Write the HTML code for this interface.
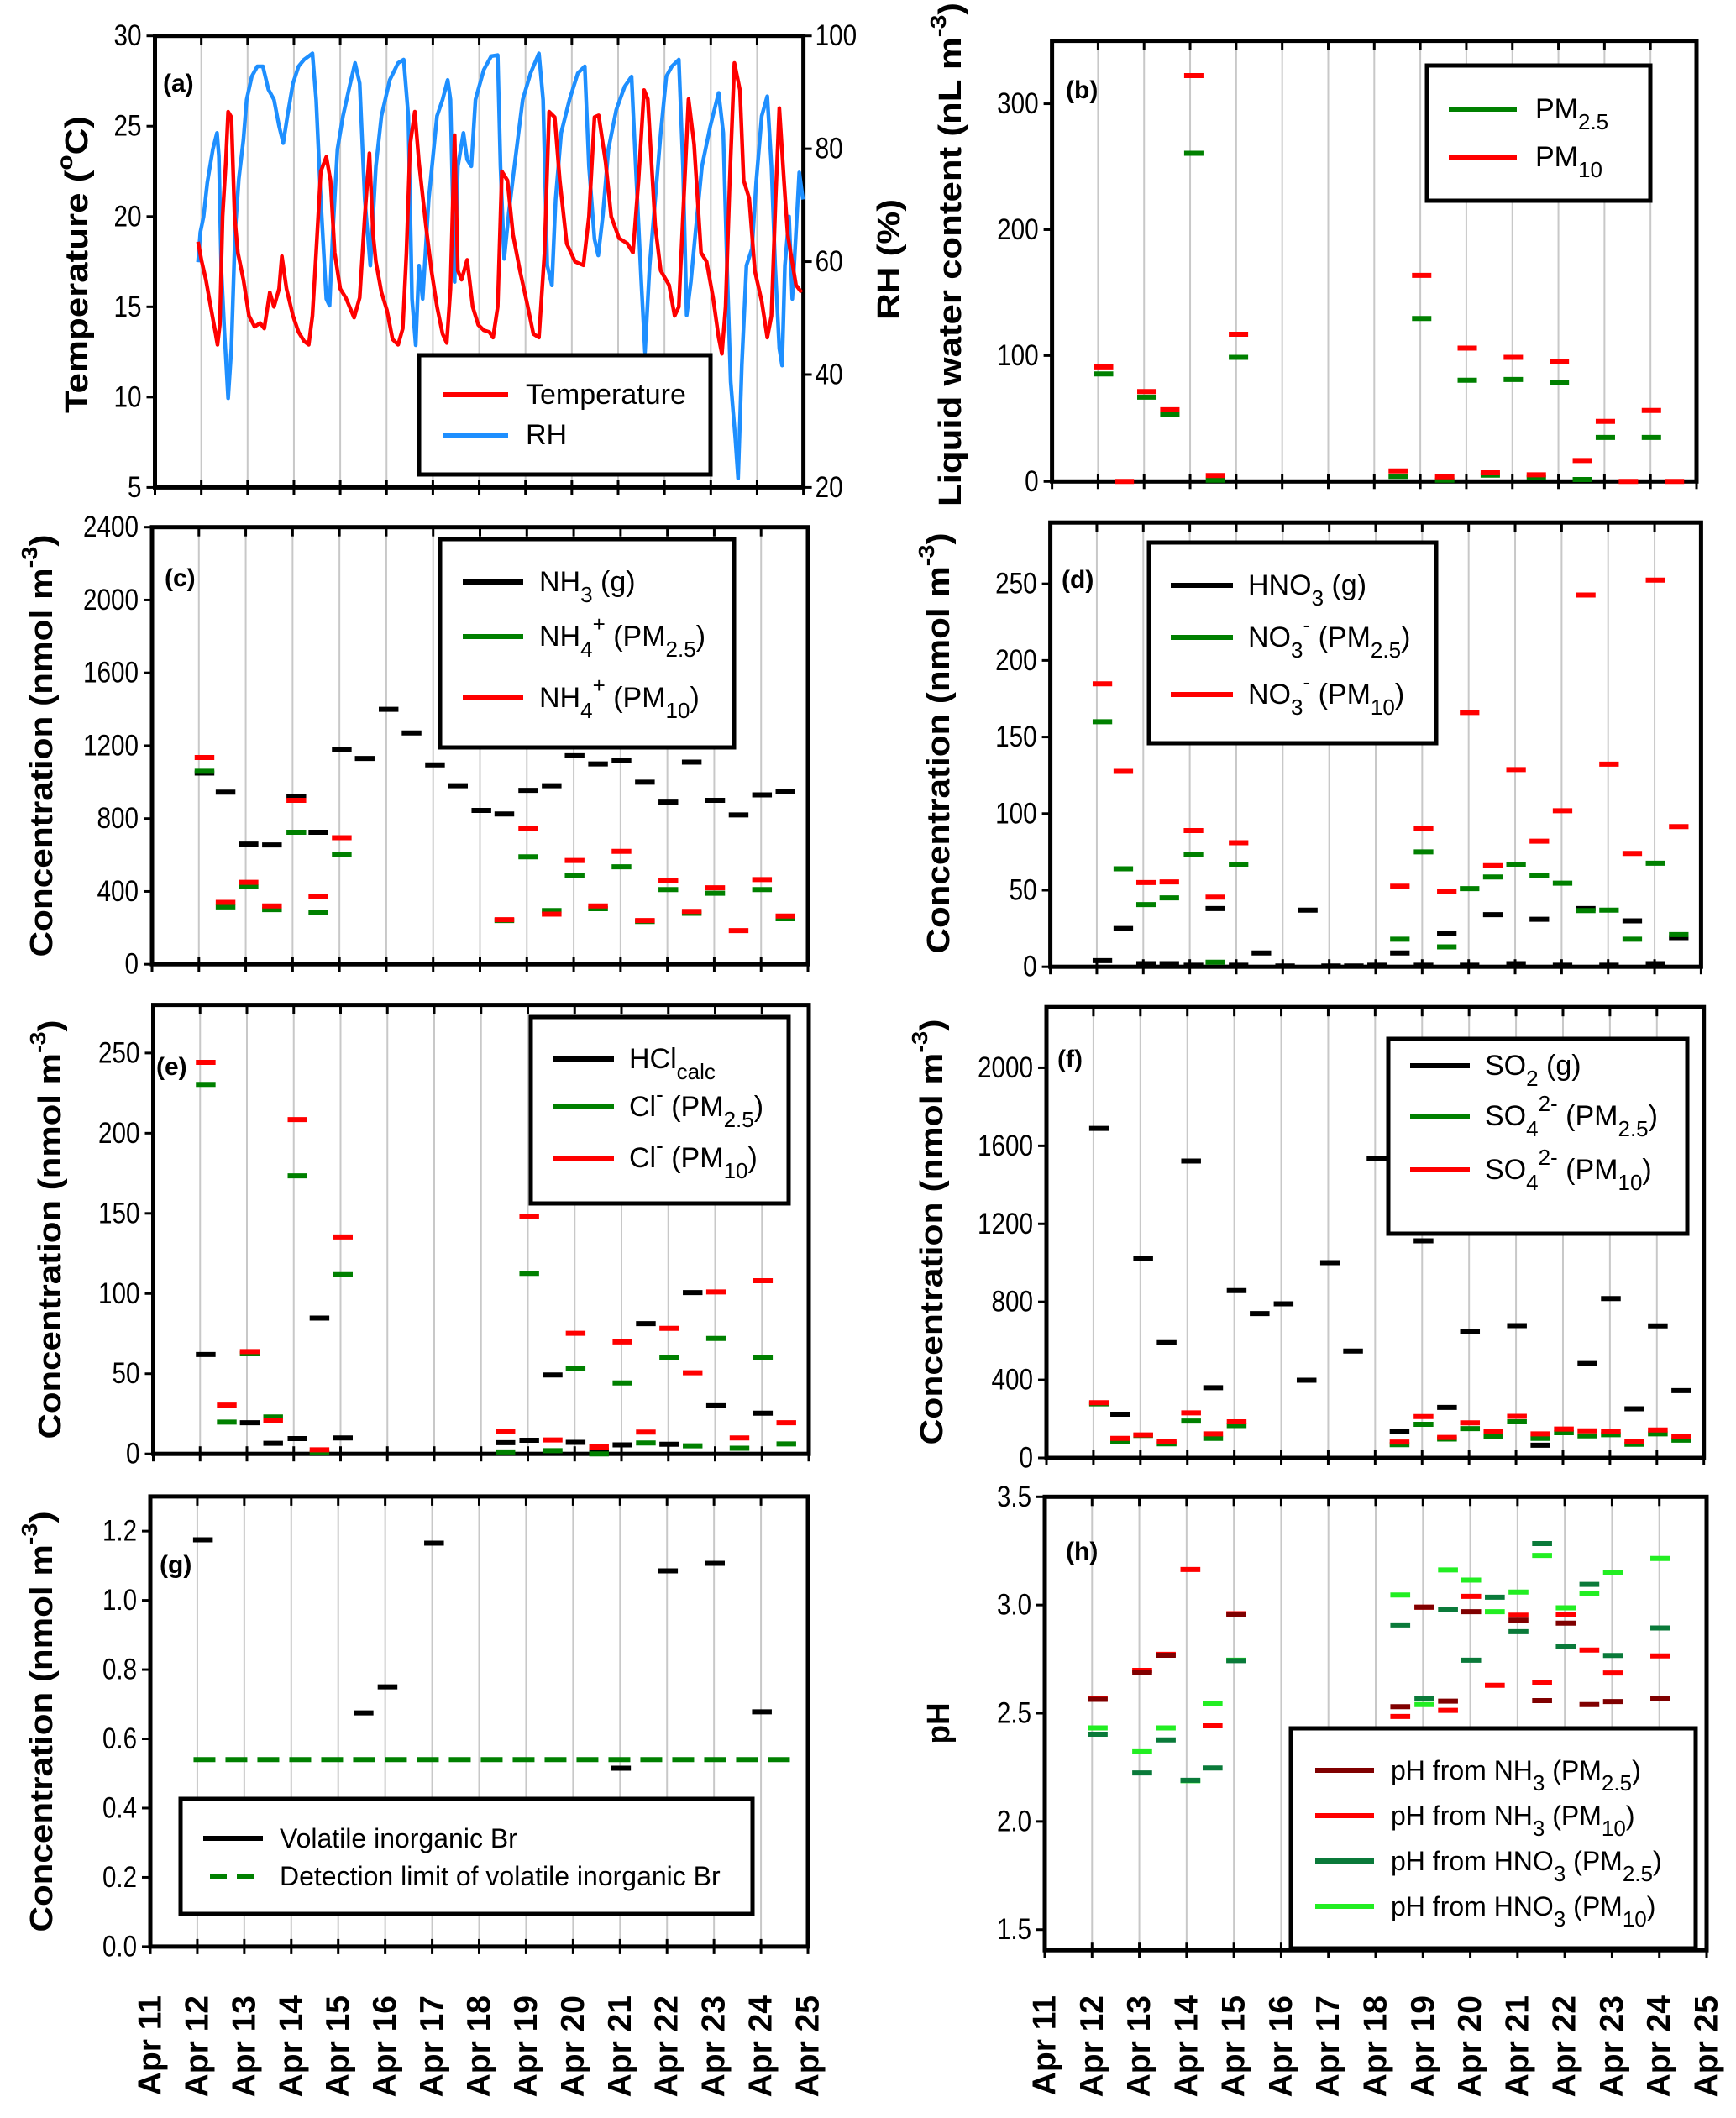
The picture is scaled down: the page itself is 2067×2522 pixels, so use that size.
<!DOCTYPE html>
<html><head><meta charset="utf-8"><title>Meteorology, gases, aerosol and pH, Apr 11–25</title>
<style>
html,body{margin:0;padding:0;background:#fff;}
svg{display:block;font-family:"Liberation Sans",Arial,sans-serif;}
</style></head>
<body>
<svg id="fig" xmlns="http://www.w3.org/2000/svg" width="2067" height="2522" viewBox="0 0 2067 2522">
<rect x="0" y="0" width="2067" height="2522" fill="#fff"/>
</svg>
<script>
const N = null;
// sample center times (day of April)
const T = [12.12,12.57,13.06,13.56,14.08,14.55,15.05,15.54,16.05,16.54,17.04,17.53,18.03,18.52,19.03,19.53,20.02,20.52,21.02,21.52,22.02,22.52,23.02,23.52,24.02,24.52];
// (a) temperature
const tempDays = [11.93,12.01,12.10,12.19,12.31,12.35,12.40,12.46,12.53,12.58,12.65,12.72,12.79,12.91,13.03,13.15,13.27,13.36,13.48,13.57,13.68,13.74,13.84,13.98,14.10,14.22,14.32,14.40,14.48,14.58,14.70,14.79,14.88,15.00,15.12,15.30,15.42,15.53,15.63,15.71,15.77,15.89,16.01,16.13,16.25,16.35,16.43,16.51,16.61,16.70,16.85,16.97,17.09,17.21,17.30,17.38,17.47,17.54,17.62,17.74,17.86,17.98,18.10,18.22,18.30,18.40,18.49,18.61,18.73,18.88,19.05,19.17,19.29,19.41,19.51,19.63,19.74,19.89,20.07,20.25,20.37,20.49,20.58,20.73,20.85,21.02,21.20,21.32,21.44,21.56,21.64,21.80,21.92,22.10,22.22,22.31,22.40,22.52,22.64,22.79,22.91,23.05,23.17,23.24,23.32,23.41,23.51,23.63,23.71,23.83,23.95,24.10,24.22,24.31,24.40,24.48,24.58,24.66,24.75,24.84,24.96];
const tempVals = [18.6,17.5,16.5,15.2,13.5,12.9,14,20,23,25.8,25.5,20,18,16.5,14.5,13.9,14.1,13.8,15.8,15,16,17.8,16,14.5,13.6,13.1,12.9,14.5,18,22.5,23.3,22,18,16,15.5,14.4,15.5,20,23.5,19,17.5,15.8,14.8,13.2,12.9,13.8,18,24,25.8,23,19.5,17,15,13.5,13,16,24.5,17,16.5,17.6,15,14,13.7,13.6,13.3,15,22.5,22,19,17,15,13.5,13.3,18,25.8,25.5,22,18.5,17.5,17.3,20,25.5,25.6,23,20,18.8,18.5,18,22,27,26.5,19.5,17,16.2,14.5,15,20,26.5,24,18,17.5,15.5,13.3,12.4,15,22,28.5,27,22,21,17,15.3,13.3,14.5,21,26,22,19,17.6,16.2,15.8];
// (a) relative humidity
const rhDays = [11.93,11.98,12.05,12.13,12.25,12.34,12.38,12.43,12.50,12.58,12.65,12.73,12.81,12.91,12.98,13.09,13.21,13.33,13.45,13.57,13.68,13.77,13.86,13.98,14.10,14.22,14.32,14.40,14.48,14.58,14.70,14.77,14.84,14.94,15.06,15.20,15.32,15.42,15.53,15.65,15.77,15.89,16.07,16.25,16.37,16.47,16.55,16.63,16.70,16.78,16.91,17.09,17.21,17.32,17.38,17.47,17.54,17.66,17.74,17.83,17.92,18.10,18.26,18.40,18.46,18.54,18.64,18.76,18.94,19.11,19.29,19.38,19.47,19.57,19.65,19.77,19.95,20.13,20.28,20.37,20.49,20.57,20.67,20.79,20.96,21.14,21.29,21.38,21.50,21.58,21.68,21.80,21.92,22.04,22.16,22.31,22.40,22.48,22.57,22.67,22.81,22.99,23.17,23.27,23.35,23.43,23.53,23.59,23.67,23.77,23.89,23.98,24.10,24.22,24.31,24.39,24.48,24.54,24.60,24.69,24.76,24.84,24.91,24.99];
const rhVals = [59.9,65.2,68,74,79.9,82.8,78.7,59.3,47.5,35.8,44.6,65.2,74.6,81.6,88.7,92.8,94.6,94.6,90.5,88.7,84,81,85.8,91.6,94.6,95.8,96.4,96.9,88.7,71,53.4,52.2,65.2,79.9,85.8,91,95.2,91.6,71,59.3,76.9,85.8,92.2,95.2,95.8,85.8,53.4,45.2,59.3,53.4,71,85.8,88.7,92.2,88.7,56.4,76.9,82.8,78.1,76.9,88.7,94,96.4,96.6,76.9,60.5,68.7,76.9,88.7,93.4,96.9,88.7,59.3,55.8,71,82.8,88.7,93.4,94.6,76.9,64,61.1,68.2,79.9,86.9,91,92.8,76.9,56.4,44,59.3,71,82.8,92.8,94.6,95.8,76.9,50.5,56.4,65.2,76.9,84,89.9,82.8,59.3,38.7,28.7,21.6,41.6,59.3,62.3,74,85.8,89.3,76.9,59.3,44.6,41.6,59.3,68,53.4,65.2,75.8,71];
// (b) liquid water content
const lwcPM25 = [85.4,N,67,53,260.7,1,98.6,N,N,N,N,N,N,4,129.4,1,80.4,5,81,3,78.6,1.5,35,N,35,N];
const lwcPM10 = [91,0,71.4,57,322.4,4.7,116.9,N,N,N,N,N,N,8.4,163.7,3.7,105.9,6.9,98.6,5.3,95.2,16.6,47.7,0,56.4,0];
// (c) ammonia / ammonium
const nh3 = [1050,945,660,655,920,725,1180,1130,1400,1270,1095,980,845,825,955,980,1145,1100,1120,1000,890,1110,900,820,930,950];
const nh4PM25 = [1060,315,425,300,725,285,605,N,N,N,N,N,N,240,590,295,485,305,535,235,410,280,390,N,410,250];
const nh4PM10 = [1135,340,450,320,900,370,695,N,N,N,N,N,N,245,745,275,570,320,620,240,460,290,420,185,465,265];
// (d) nitric acid / nitrate
const hno3 = [4,25,2,2,1,38,1,9,0.5,37,0.5,0.5,1,9,1,22,1,34,2,31,1,38,1,30,2,19];
const no3PM25 = [160,64,40.6,45,73,3,67,N,N,N,N,N,N,18,75,13,51,58.6,67,59.7,54.6,36.7,37,18,67.6,21];
const no3PM10 = [184.7,127.6,55,55.4,88.9,45.5,81,N,N,N,N,N,N,52.6,90,49,166,66,128.7,82,101.9,242.7,132.3,74,252.4,91.5];
// (e) HCl / chloride
const hcl = [62,N,19.4,6.6,9.5,84.7,9.9,N,N,N,N,N,N,7,8.5,49.2,7.2,2.3,5.6,81.2,6,100.6,30,N,25.4,N];
const clPM25 = [230.4,19.8,62.4,23,173.4,1,111.8,N,N,N,N,N,N,1.2,112.6,2,53.3,0,44.2,6.8,60,5,72,3.5,60,6.2];
const clPM10 = [244.2,30.4,63.8,20.7,208.5,2.5,135.3,N,N,N,N,N,N,13.8,148,8.7,75.2,4.3,69.8,13.6,78.3,50.6,101,9.9,108,19.4];
// (f) SO2 / sulfate
const so2 = [1689,224,1022,591,1522,360,858,740,790,398,1001,548,1536,137,1113,259,650,132,678,65,1167,484,817,252,677,345];
const so4PM25 = [277,83,115,72,189,100,166,N,N,N,N,N,N,68,172,97,150,111,185,100,129,113,119,70,123,91];
const so4PM10 = [283,100,118,84,231,123,185,N,N,N,N,N,N,81,212,105,180,135,213,123,148,139,135,86,143,111];
// (g) volatile inorganic Br
const brVals = [1.175,N,N,N,N,N,N,0.675,0.75,N,1.165,N,N,N,N,N,N,N,0.515,N,1.085,N,1.107,N,0.678,N];
const brDL = [0.54];
const brDLSpan = [11.92,24.77];
// (h) pH
const phNH3_25 = [2.564,N,2.688,2.768,N,N,2.957,N,N,N,N,N,N,2.53,2.99,2.556,2.969,N,2.93,2.558,2.916,2.54,2.554,N,2.57,N];
const phNH3_10 = [2.568,N,2.698,2.772,3.164,2.442,2.96,N,N,N,N,N,N,2.485,2.99,2.513,3.04,2.629,2.953,2.641,2.957,2.792,2.686,N,2.765,N];
const phHNO3_25 = [2.403,N,2.224,2.377,2.19,2.247,2.743,N,N,N,N,N,N,2.908,2.566,2.981,2.745,3.036,2.877,3.284,2.81,3.095,2.767,N,2.894,N];
const phHNO3_10 = [2.432,N,2.322,2.432,2.188,2.546,2.745,N,N,N,N,N,N,3.046,2.54,3.162,3.115,2.969,3.06,3.229,2.987,3.054,3.152,N,3.215,N];
// axis tick labels
const ticksA = [5,10,15,20,25,30];
const ticksARight = [20,40,60,80,100];
const ticksB = [0,100,200,300];
const ticksC = [0,400,800,1200,1600,2000,2400];
const ticksD = [0,50,100,150,200,250];
const ticksE = [0,50,100,150,200,250];
const ticksF = [0,400,800,1200,1600,2000];
const ticksG = ["0.0","0.2","0.4","0.6","0.8","1.0","1.2"];
const ticksH = ["1.5","2.0","2.5","3.0","3.5"];
const dayLabels = ["Apr 11","Apr 12","Apr 13","Apr 14","Apr 15","Apr 16","Apr 17","Apr 18","Apr 19","Apr 20","Apr 21","Apr 22","Apr 23","Apr 24","Apr 25"];

const NS = 'http://www.w3.org/2000/svg';
const svg = document.getElementById('fig');
function mk(parent, tag, attrs) {
  const e = document.createElementNS(NS, tag);
  for (const k in attrs) e.setAttribute(k, attrs[k]);
  parent.appendChild(e);
  return e;
}
const P = {
  a:{L:184.5,R:956.6,T:42.7,B:580.4,y0:5,y1:30},
  b:{L:1252.6,R:2020,T:48.6,B:573.3,y0:0,y1:350},
  c:{L:181,R:962,T:627.7,B:1148.2,y0:0,y1:2400},
  d:{L:1250.6,R:2025.4,T:622.2,B:1151.2,y0:0,y1:290},
  e:{L:182.5,R:963,T:1196.6,B:1731.2,y0:0,y1:280},
  f:{L:1246,R:2028.7,T:1199.2,B:1736,y0:0,y1:2311},
  g:{L:179,R:962,T:1781.9,B:2317.9,y0:0,y1:1.3},
  h:{L:1244,R:2032,T:1782.3,B:2322.2,y0:1.405,y1:3.5}
};
function sx(p,d){return p.L+(d-11)/14*(p.R-p.L);}
function sy(p,v){return p.B-(v-p.y0)/(p.y1-p.y0)*(p.B-p.T);}
function tickW(s){let w=0;for(const c of s){w+= (c==='.')?8:16.5;}return w;}

function panel(key, ticks, label, lx, ly) {
  const p = P[key];
  const g = mk(svg,'g',{});
  
  
  p.g = g;
  for (let d = 12; d <= 24; d++) {
    const gl = mk(g,'line',{x1:sx(p,d),x2:sx(p,d),y1:p.T,y2:p.B,stroke:'#c8c8c8','stroke-width':2});
    
    
  }
  for (let d = 11; d <= 25; d++) {
    const t1 = mk(g,'line',{x1:sx(p,d),x2:sx(p,d),y1:p.T,y2:p.T+11,stroke:'#000','stroke-width':3});
    
    
    const t2 = mk(g,'line',{x1:sx(p,d),x2:sx(p,d),y1:p.B-9,y2:p.B+9,stroke:'#000','stroke-width':3});
    
    
  }
  ticks.forEach(t => {
    const v = parseFloat(t);
    const y = sy(p,v);
    const s = String(t);
    const tk = mk(g,'line',{x1:p.L-10,x2:p.L,y1:y,y2:y,stroke:'#000','stroke-width':3});
    
    
    const tx = mk(g,'text',{x:p.L-16,y:y,'text-anchor':'end','dominant-baseline':'central','font-size':35,textLength:tickW(s),lengthAdjust:'spacingAndGlyphs',fill:'#000'});
    tx.textContent = s;
    
    
  });
  const fr = mk(g,'rect',{x:p.L,y:p.T,width:p.R-p.L,height:p.B-p.T,fill:'none',stroke:'#000','stroke-width':5});
  
  
  const lb = mk(g,'text',{x:lx,y:ly,'font-size':30,'font-weight':'bold',fill:'#000'});
  lb.textContent = label;
  
  
  return p;
}
function vtitle(html, cx, cy, len, size, name) {
  const t = mk(svg,'text',{x:cx,y:cy,transform:`rotate(-90 ${cx} ${cy})`,'text-anchor':'middle','dominant-baseline':'central','font-size':size,'font-weight':'bold',textLength:len,lengthAdjust:'spacingAndGlyphs',fill:'#000'});
  t.innerHTML = html;
  
  
}
function bars(p, vals, color, name) {
  const g = mk(p.g,'g',{});
  
  
  vals.forEach((v,i) => {
    if (v === null) return;
    const b = mk(g,'line',{x1:sx(p,T[i]-0.21),x2:sx(p,T[i]+0.21),y1:sy(p,v),y2:sy(p,v),stroke:color,'stroke-width':6});
    
    
  });
}
function legend(box, entries, name) {
  const g = mk(svg,'g',{});
  
  
  const r = mk(g,'rect',{x:box[0],y:box[1],width:box[2]-box[0],height:box[3]-box[1],fill:'#fff',stroke:'#000','stroke-width':5});
  
  
  entries.forEach(e => {
    const l = mk(g,'line',{x1:e.x1,x2:e.x2,y1:e.y,y2:e.y,stroke:e.color,'stroke-width':6});
    if (e.dash) l.setAttribute('stroke-dasharray', e.dash);
    
    
    const t = mk(g,'text',{x:e.tx,y:e.y,'dominant-baseline':'central','font-size':e.fs||34,fill:'#000'});
    t.innerHTML = e.html;
    
    
  });
}
const sub = s => `<tspan baseline-shift="sub" font-size="26">${s}</tspan>`;
const sup = s => `<tspan baseline-shift="super" font-size="26">${s}</tspan>`;

// ---- panel a
const pa = panel('a', ticksA, '(a)', 194, 109);
const pa2 = {L:pa.L,R:pa.R,T:pa.T,B:pa.B,y0:20,y1:100};
ticksARight.forEach(t => {
  const y = sy(pa2,t);
  const s = String(t);
  const tk = mk(pa.g,'line',{x1:pa.R,x2:pa.R+10,y1:y,y2:y,stroke:'#000','stroke-width':3});
  
  
  const tx = mk(pa.g,'text',{x:pa.R+14,y:y,'dominant-baseline':'central','font-size':35,textLength:tickW(s),lengthAdjust:'spacingAndGlyphs',fill:'#000'});
  tx.textContent = s;
  
  
});
const rhLine = mk(pa.g,'polyline',{points:rhDays.map((d,i)=>sx(pa2,d)+','+sy(pa2,rhVals[i])).join(' '),fill:'none',stroke:'#1e8fff','stroke-width':4.5,'stroke-linejoin':'round'});


const tLine = mk(pa.g,'polyline',{points:tempDays.map((d,i)=>sx(pa,d)+','+sy(pa,tempVals[i])).join(' '),fill:'none',stroke:'#ff0000','stroke-width':4.5,'stroke-linejoin':'round'});


vtitle('Temperature (' + '<tspan baseline-shift="super" font-size="26">o</tspan>C)', 92, 315, 354, 38, 'y-axis-title-temperature');
vtitle('RH (%)', 1059, 309, 144, 38, 'y-axis-title-rh');
legend([499,423,846,565],[
  {x1:527,x2:605,y:470,color:'#ff0000',tx:626,html:'Temperature'},
  {x1:527,x2:605,y:518,color:'#1e8fff',tx:626,html:'RH'}],'legend-a');

// ---- panel b
const pb = panel('b', ticksB, '(b)', 1269, 117);
bars(pb, lwcPM25, '#008000', 'lwc-pm25');
bars(pb, lwcPM10, '#ff0000', 'lwc-pm10');
vtitle('Liquid water content (nL m' + sup('-3') + ')', 1132, 303, 600, 38, 'y-axis-title-lwc');
legend([1699,78,1965,239],[
  {x1:1725,x2:1806,y:130,color:'#008000',tx:1828,html:'PM'+sub('2.5')},
  {x1:1725,x2:1806,y:187,color:'#ff0000',tx:1828,html:'PM'+sub('10')}],'legend-b');

// ---- panel c
const pc = panel('c', ticksC, '(c)', 196, 698);
bars(pc, nh3, '#000000', 'nh3');
bars(pc, nh4PM25, '#008000', 'nh4-pm25');
bars(pc, nh4PM10, '#ff0000', 'nh4-pm10');
vtitle('Concentration (nmol m' + sup('-3') + ')', 50, 888, 503, 38, 'y-axis-title-c');
legend([524,642,874,890],[
  {x1:551,x2:623,y:693,color:'#000',tx:642,html:'NH'+sub('3')+' (g)'},
  {x1:551,x2:623,y:758,color:'#008000',tx:642,html:'NH'+sub('4')+sup('+')+' (PM'+sub('2.5')+')'},
  {x1:551,x2:623,y:831,color:'#ff0000',tx:642,html:'NH'+sub('4')+sup('+')+' (PM'+sub('10')+')'}],'legend-c');

// ---- panel d
const pd = panel('d', ticksD, '(d)', 1264, 700);
bars(pd, hno3, '#000000', 'hno3');
bars(pd, no3PM25, '#008000', 'no3-pm25');
bars(pd, no3PM10, '#ff0000', 'no3-pm10');
vtitle('Concentration (nmol m' + sup('-3') + ')', 1118, 885, 501, 38, 'y-axis-title-d');
legend([1368,646,1710,885],[
  {x1:1394,x2:1468,y:697,color:'#000',tx:1486,html:'HNO'+sub('3')+' (g)'},
  {x1:1394,x2:1468,y:759,color:'#008000',tx:1486,html:'NO'+sub('3')+sup('-')+' (PM'+sub('2.5')+')'},
  {x1:1394,x2:1468,y:827,color:'#ff0000',tx:1486,html:'NO'+sub('3')+sup('-')+' (PM'+sub('10')+')'}],'legend-d');

// ---- panel e
const pe = panel('e', ticksE, '(e)', 186, 1280);
bars(pe, hcl, '#000000', 'hcl');
bars(pe, clPM25, '#008000', 'cl-pm25');
bars(pe, clPM10, '#ff0000', 'cl-pm10');
vtitle('Concentration (nmol m' + sup('-3') + ')', 60, 1464, 499, 38, 'y-axis-title-e');
legend([632,1211,939,1433],[
  {x1:659,x2:731,y:1261,color:'#000',tx:749,html:'HCl'+sub('calc')},
  {x1:659,x2:731,y:1318,color:'#008000',tx:749,html:'Cl'+sup('-')+' (PM'+sub('2.5')+')'},
  {x1:659,x2:731,y:1379,color:'#ff0000',tx:749,html:'Cl'+sup('-')+' (PM'+sub('10')+')'}],'legend-e');

// ---- panel f
const pf = panel('f', ticksF, '(f)', 1259, 1271);
bars(pf, so2, '#000000', 'so2');
bars(pf, so4PM25, '#008000', 'so4-pm25');
bars(pf, so4PM10, '#ff0000', 'so4-pm10');
vtitle('Concentration (nmol m' + sup('-3') + ')', 1110, 1467, 507, 38, 'y-axis-title-f');
legend([1653,1237,2009,1469],[
  {x1:1679,x2:1750,y:1269,color:'#000',tx:1768,html:'SO'+sub('2')+' (g)'},
  {x1:1679,x2:1750,y:1329,color:'#008000',tx:1768,html:'SO'+sub('4')+sup('2-')+' (PM'+sub('2.5')+')'},
  {x1:1679,x2:1750,y:1393,color:'#ff0000',tx:1768,html:'SO'+sub('4')+sup('2-')+' (PM'+sub('10')+')'}],'legend-f');

// ---- panel g
const pg = panel('g', ticksG, '(g)', 190, 1873);
const dl = mk(pg.g,'line',{x1:sx(pg,brDLSpan[0]),x2:sx(pg,brDLSpan[1]),y1:sy(pg,brDL[0]),y2:sy(pg,brDL[0]),stroke:'#008000','stroke-width':6,'stroke-dasharray':'26 12'});


bars(pg, brVals, '#000000', 'volatile-br');
vtitle('Concentration (nmol m' + sup('-3') + ')', 50, 2050, 501, 38, 'y-axis-title-g');
legend([215,2142,896,2279],[
  {x1:242,x2:313,y:2189,color:'#000',tx:333,html:'Volatile inorganic Br',fs:32},
  {x1:250,x2:305,y:2234,color:'#008000',dash:'20 12',tx:333,html:'Detection limit of volatile inorganic Br',fs:32}],'legend-g');

// ---- panel h
const ph = panel('h', ticksH, '(h)', 1269, 1857);
bars(ph, phHNO3_10, '#22ee22', 'ph-hno3-pm10');
bars(ph, phHNO3_25, '#0a7a3a', 'ph-hno3-pm25');
bars(ph, phNH3_10, '#ff0000', 'ph-nh3-pm10');
bars(ph, phNH3_25, '#800000', 'ph-nh3-pm25');
vtitle('pH', 1118, 2052, 49, 38, 'y-axis-title-h');
legend([1537,2058,2019,2320],[
  {x1:1566,x2:1636,y:2108,color:'#800000',tx:1656,html:'pH from NH'+sub('3')+'  (PM'+sub('2.5')+')',fs:32},
  {x1:1566,x2:1636,y:2162,color:'#ff0000',tx:1656,html:'pH from NH'+sub('3')+' (PM'+sub('10')+')',fs:32},
  {x1:1566,x2:1636,y:2216,color:'#0a7a3a',tx:1656,html:'pH from HNO'+sub('3')+' (PM'+sub('2.5')+')',fs:32},
  {x1:1566,x2:1636,y:2270,color:'#22ee22',tx:1656,html:'pH from HNO'+sub('3')+' (PM'+sub('10')+')',fs:32}],'legend-h');

// ---- date labels
[pg, ph].forEach((p, col) => {
  dayLabels.forEach((lab, i) => {
    const x = sx(p, 11 + i), y = 2376;
    const t = mk(svg,'text',{x:x,y:y,transform:`rotate(-90 ${x} ${y})`,'text-anchor':'end','dominant-baseline':'central','font-size':39,'font-weight':'bold',fill:'#000'});
    t.textContent = lab;
    
    
  });
});
</script>
</body></html>
